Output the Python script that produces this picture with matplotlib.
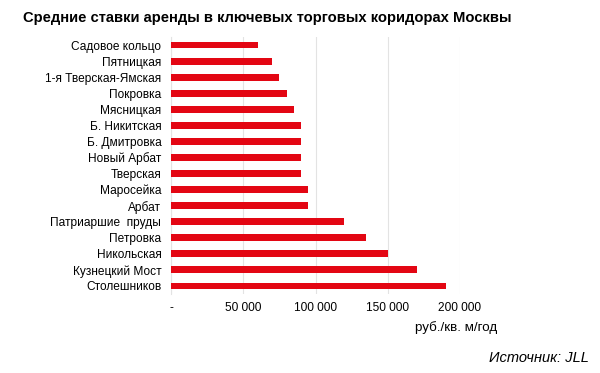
import matplotlib
matplotlib.use("Agg")
import matplotlib.pyplot as plt

plt.rcParams["font.family"] = ["Liberation Sans", "DejaVu Sans"]

streets = [
    "Садовое кольцо", "Пятницкая", "1-я Тверская-Ямская", "Покровка", "Мясницкая",
    "Б. Никитская", "Б. Дмитровка", "Новый Арбат", "Тверская", "Маросейка",
    "Арбат", "Патриаршие  пруды", "Петровка", "Никольская", "Кузнецкий Мост",
    "Столешников",
]
rents = [60000, 70000, 75000, 80000, 85000, 90000, 90000, 90000, 90000, 95000,
         95000, 120000, 135000, 150000, 170000, 190000]
x_ticks = [0, 50000, 100000, 150000, 200000]
x_labels = ["-", "50 000", "100 000", "150 000", "200 000"]

fig = plt.figure(figsize=(6, 3.73), dpi=100)
ax = fig.add_axes([171 / 600, 1 - 294 / 373, (460 - 171) / 600, (294 - 37) / 373])

ax.barh(range(len(streets)), rents, height=0.43, color="#E30613", zorder=3)
ax.set_ylim(len(streets) - 0.5, -0.5)
ax.set_xlim(0, 200000)

ax.set_yticks(range(len(streets)))
ax.set_yticklabels(streets, fontsize=8.6)
ax.set_xticks(x_ticks)
ax.set_xticklabels(x_labels, fontsize=8.6)
ax.tick_params(length=0)
ax.tick_params(axis="y", pad=7)
ax.tick_params(axis="x", pad=6)

ax.grid(axis="x", color="#E3E3E3", linewidth=0.8, zorder=0)
for s in ["top", "right", "bottom"]:
    ax.spines[s].set_visible(False)
ax.spines["left"].set_color("#E3E3E3")
ax.spines["left"].set_linewidth(0.8)

fig.text(23 / 600, 1 - 18 / 373, "Средние ставки аренды в ключевых торговых коридорах Москвы",
         fontsize=10.6, fontweight="bold", va="center", ha="left")
fig.text(456 / 600, 1 - 328 / 373, "руб./кв. м/год", fontsize=9.6, ha="center", va="center")
fig.text(589 / 600, 1 - 358 / 373, "Источник: JLL", fontsize=10.5, style="italic",
         ha="right", va="center")

fig.savefig("out.png", dpi=100)
